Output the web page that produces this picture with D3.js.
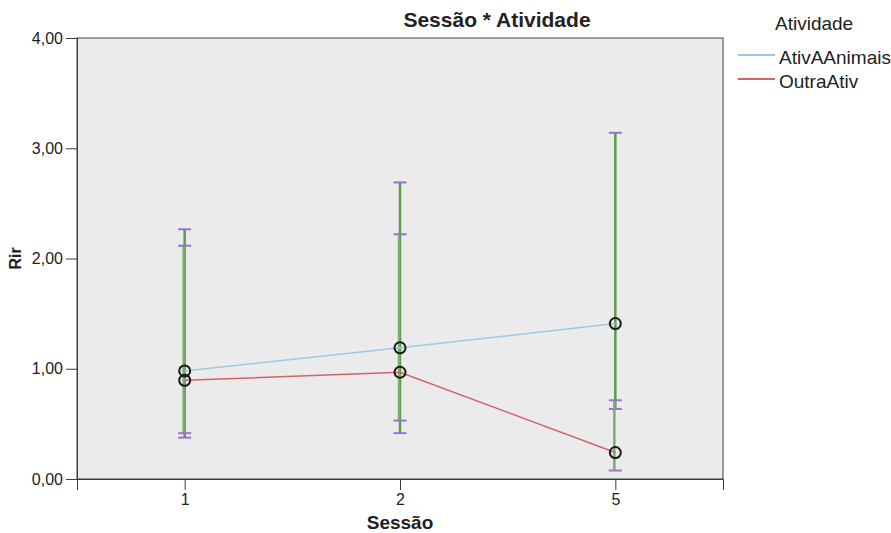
<!DOCTYPE html>
<html>
<head>
<meta charset="utf-8">
<script src="https://cdn.jsdelivr.net/npm/d3@7"></script>
<style>
  body { margin: 0; background: #fff; }
  svg { font-family: "Liberation Sans", Arial, sans-serif; }
</style>
</head>
<body>
<svg width="891" height="533"></svg>
<script>
// data
var sessions = ["1", "2", "5"];
var seriesNames = ["AtivAAnimais", "OutraAtiv"];
var animaisMean = [0.98, 1.19, 1.41];
var animaisLow  = [0.375, 0.416, 0.635];
var animaisHigh = [2.265, 2.69, 3.14];
var outraMean = [0.895, 0.968, 0.24];
var outraLow  = [0.416, 0.53, 0.077];
var outraHigh = [2.116, 2.22, 0.714];
var yTicks = [0, 1, 2, 3, 4];

var svg = d3.select("svg");
var margin = { top: 38, left: 77, right: 168, bottom: 54 };
var width = 891 - margin.left - margin.right;
var height = 533 - margin.top - margin.bottom;

var g = svg.append("g")
  .attr("transform", "translate(" + margin.left + "," + margin.top + ")");

var x = d3.scalePoint().domain(sessions).range([0, width]).padding(0.5);
var y = d3.scaleLinear().domain([0, 4]).range([height, 0]);

// plot background
g.append("rect")
  .attr("width", width)
  .attr("height", height)
  .attr("fill", "#ebebeb")
  .attr("stroke", "#3c3c3c")
  .attr("stroke-width", 1);

var series = [
  { name: seriesNames[0], mean: animaisMean, low: animaisLow, high: animaisHigh, color: "#9ecae0", off: 0 },
  { name: seriesNames[1], mean: outraMean, low: outraLow, high: outraHigh, color: "#d3626b", off: -1 }
];

// error bars
series.forEach(function(s) {
  var rows = sessions.map(function(c, i) { return { c: c, lo: s.low[i], hi: s.high[i] }; });
  g.selectAll(null).data(rows).enter().append("line")
    .attr("x1", function(d) { return x(d.c) + s.off; })
    .attr("x2", function(d) { return x(d.c) + s.off; })
    .attr("y1", function(d) { return y(d.lo); })
    .attr("y2", function(d) { return y(d.hi); })
    .attr("stroke", s.off ? "#76b06a" : "#5b9b4c")
    .attr("stroke-width", 2.5);
  rows.forEach(function(d) {
    [d.lo, d.hi].forEach(function(v) {
      g.append("line")
        .attr("x1", x(d.c) - 6.5).attr("x2", x(d.c) + 6.5)
        .attr("y1", y(v)).attr("y2", y(v))
        .attr("stroke", "#9b72cf")
        .attr("stroke-width", 2);
    });
  });
});

// mean lines
var line = d3.line()
  .x(function(d) { return x(d.c); })
  .y(function(d) { return y(d.v); });

series.forEach(function(s) {
  var rows = sessions.map(function(c, i) { return { c: c, v: s.mean[i] }; });
  g.append("path")
    .datum(rows)
    .attr("fill", "none")
    .attr("stroke", s.color)
    .attr("stroke-width", 1.5)
    .attr("d", line);
});

series.forEach(function(s) {
  var rows = sessions.map(function(c, i) { return { c: c, v: s.mean[i] }; });
  g.selectAll(null).data(rows).enter().append("circle")
    .attr("cx", function(d) { return x(d.c); })
    .attr("cy", function(d) { return y(d.v); })
    .attr("r", 5.5)
    .attr("fill", "none")
    .attr("stroke", "#1a1a1a")
    .attr("stroke-width", 2);
});

// axes
var yAxis = g.append("g")
  .call(d3.axisLeft(y).tickValues(yTicks).tickSize(11).tickPadding(3)
    .tickFormat(function(d) { return d3.format(".2f")(d).replace(".", ","); }));
var xAxis = g.append("g")
  .attr("transform", "translate(0," + height + ")")
  .call(d3.axisBottom(x).tickSize(11));

[yAxis, xAxis].forEach(function(a) {
  a.select(".domain").attr("stroke", "#3c3c3c");
  a.selectAll(".tick line").attr("stroke", "#3c3c3c");
  a.selectAll(".tick text").attr("fill", "#222").attr("font-size", 16)
    .attr("font-family", "Liberation Sans, Arial, sans-serif");
});
xAxis.selectAll(".tick text").attr("y", 15);

// titles
svg.append("text")
  .attr("x", 497).attr("y", 27)
  .attr("text-anchor", "middle")
  .attr("font-size", 21).attr("font-weight", "bold").attr("fill", "#222")
  .text("Sessão * Atividade");

svg.append("text")
  .attr("x", margin.left + width / 2).attr("y", 529)
  .attr("text-anchor", "middle")
  .attr("font-size", 19).attr("font-weight", "bold").attr("fill", "#222")
  .text("Sessão");

svg.append("text")
  .attr("transform", "translate(21," + (margin.top + y(2)) + ") rotate(-90)")
  .attr("text-anchor", "middle")
  .attr("font-size", 16).attr("font-weight", "bold").attr("fill", "#222")
  .text("Rir");

// legend
var legend = svg.append("g").attr("transform", "translate(738,0)");
legend.append("text")
  .attr("x", 37).attr("y", 30)
  .attr("font-size", 19).attr("fill", "#222")
  .text("Atividade");
series.forEach(function(s, i) {
  var ly = 55 + i * 24;
  legend.append("line")
    .attr("x1", 0).attr("x2", 37)
    .attr("y1", ly).attr("y2", ly)
    .attr("stroke", s.color).attr("stroke-width", 2);
  legend.append("text")
    .attr("x", 41).attr("y", ly + 9)
    .attr("font-size", 19).attr("fill", "#222")
    .text(s.name);
});
</script>
</body>
</html>
